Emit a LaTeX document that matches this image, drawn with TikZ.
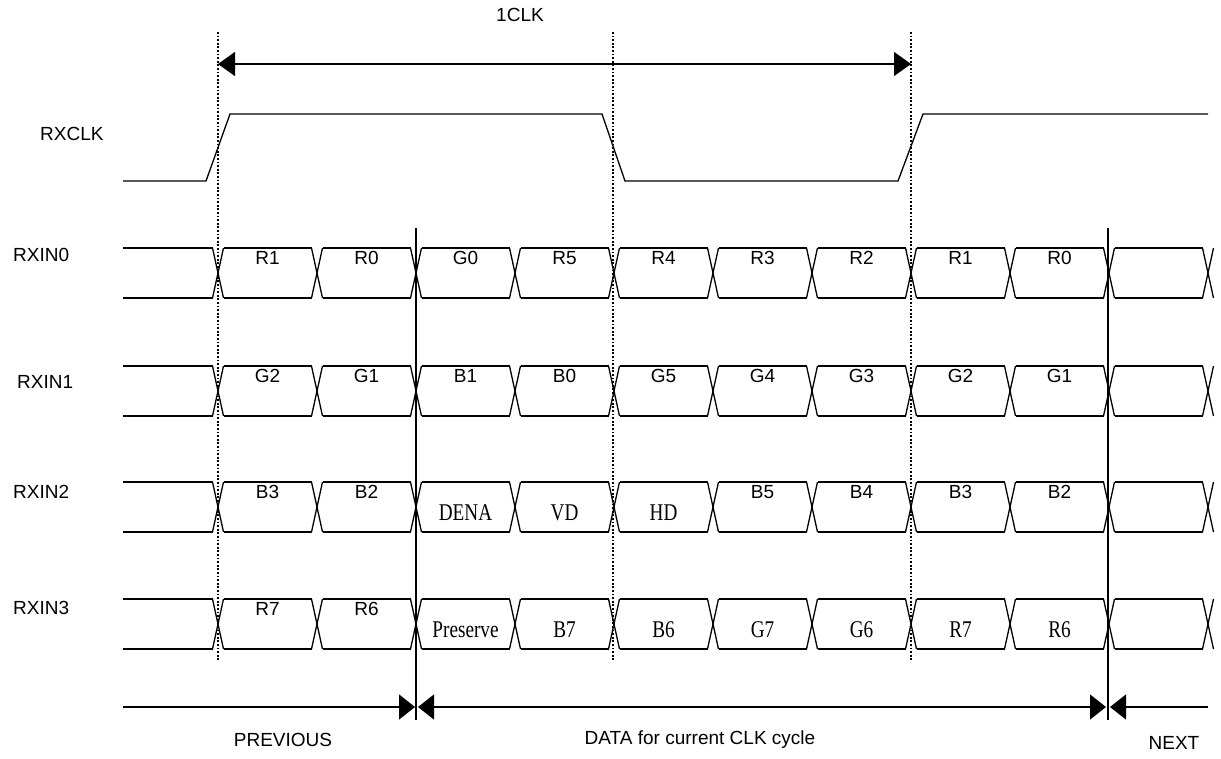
\documentclass[tikz,border=0pt]{standalone}
\usepackage{fontspec}
\setmainfont{Liberation Sans}
\newfontfamily\cellserif[FakeStretch=0.8]{Liberation Serif}
\usetikzlibrary{arrows.meta}

\tikzset{
  wave/.style={line width=1.3pt, line join=miter},
  guide/.style={line width=1.1pt, dash pattern=on 1.8pt off 1.8pt},
  bound/.style={line width=1.3pt},
  span/.style={line width=1.3pt},
  sig/.style={font=\fontsize{19}{22}\selectfont, inner sep=0pt, anchor=west},
  txt/.style={font=\fontsize{19}{22}\selectfont, inner sep=0pt},
  bit/.style={font=\fontsize{19}{22}\selectfont, inner sep=0pt, anchor=base},
  sbit/.style={font=\cellserif\fontsize{24}{26}\selectfont, inner sep=0pt, anchor=base, yshift=-22pt},
}

\begin{document}
\begin{tikzpicture}[x=1pt,y=-1pt]
		\useasboundingbox (0,0) rectangle (1221,758);

		% signal names
		\node[sig] at (40,134) (nclk) {RXCLK};
		\node[sig] at (13,255) (nin0) {RXIN0};
		\node[sig] at (17,382) (nin1) {RXIN1};
		\node[sig] at (13,492) (nin2) {RXIN2};
		\node[sig] at (13,608) (nin3) {RXIN3};

		% guides
		\foreach \x in {218,613,911}
		  \draw[guide] (\x,32) -- (\x,660);
		\draw[bound] (416,228) -- (416,720);
		\draw[bound] (1108,228) -- (1108,720);

		% clock
		\draw[wave] (123,181) -- (206,181) -- (230,114) -- (602,114) -- (625,181)
		  -- (898,181) -- (923,114) -- (1208,114);

		% data rows
		\foreach \yt in {248,366,482,599} {
		  \draw[wave] (123,\yt) -- (212.5,\yt);
		  \draw[wave] (123,\yt+50) -- (212.5,\yt+50);
		  \foreach \k in {0,...,10} {
		    \pgfmathsetmacro\xa{218+99*\k}
		    \draw[wave] (\xa-5.5,\yt) -- (\xa+5.5,\yt+50);
		    \draw[wave] (\xa-5.5,\yt+50) -- (\xa+5.5,\yt);
		  }
		  \foreach \k in {0,...,9} {
		    \pgfmathsetmacro\xa{218+99*\k}
		    \draw[wave] (\xa+5.5,\yt) -- (\xa+93.5,\yt);
		    \draw[wave] (\xa+5.5,\yt+50) -- (\xa+93.5,\yt+50);
		  }
		}

		% bit names
		\foreach \lab [count=\k from 0] in {R1,R0,G0,R5,R4,R3,R2,R1,R0}
		  \node[bit] at ({267.5+99*\k},264) (a\k) {\lab};
		\foreach \lab [count=\k from 0] in {G2,G1,B1,B0,G5,G4,G3,G2,G1}
		  \node[bit] at ({267.5+99*\k},382) (b\k) {\lab};
		\foreach \lab/\sty [count=\k from 0] in {B3/bit,B2/bit,DENA/sbit,VD/sbit,HD/sbit,B5/bit,B4/bit,B3/bit,B2/bit}
		  \node[\sty] at ({267.5+99*\k},498) (c\k) {\lab};
		\foreach \lab/\sty [count=\k from 0] in {R7/bit,R6/bit,Preserve/sbit,B7/sbit,B6/sbit,G7/sbit,G6/sbit,R7/sbit,R6/sbit}
		  \node[\sty] at ({267.5+99*\k},615) (d\k) {\lab};

		% spans
		\coordinate (clkL) at (218,64);
		\coordinate (clkR) at (911,64);
		\draw[span, {Triangle[length=17pt,width=24pt]}-{Triangle[length=17pt,width=24pt]}] (clkL) -- (clkR);
		\node[txt] at (520,15) (lclk) {1CLK};

		\coordinate (prevL) at (123,707);
		\coordinate (prevR) at (415,707);
		\coordinate (dataL) at (418,707);
		\coordinate (dataR) at (1106,707);
		\coordinate (nextL) at (1110,707);
		\coordinate (nextR) at (1208,707);
		\draw[span, -{Triangle[length=16pt,width=25pt]}] (prevL) -- (prevR);
		\draw[span, {Triangle[length=16pt,width=25pt]}-{Triangle[length=16pt,width=25pt]}] (dataL) -- (dataR);
		\draw[span, {Triangle[length=16pt,width=25pt]}-] (nextL) -- (nextR);

		\node[txt] at (283,740) (lprev) {PREVIOUS};
		\node[txt] at (700,740) (ldata) {DATA for current CLK cycle};
		\node[txt] at (1174,743) (lnext) {NEXT};
\end{tikzpicture}
\end{document}
